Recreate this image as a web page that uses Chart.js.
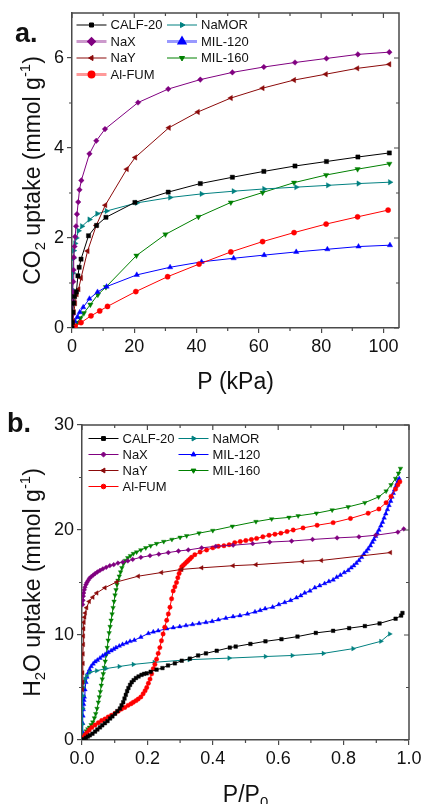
<!DOCTYPE html>
<html>
<head>
<meta charset="utf-8">
<script src="https://cdn.jsdelivr.net/npm/chart.js@4.4.1/dist/chart.umd.min.js"></script>
<style>
  html, body { margin: 0; padding: 0; background: #fff; }
  #wrap { position: relative; width: 422px; height: 804px; overflow: hidden; }
  canvas { position: absolute; left: 0; }
  #co2 { top: 0; }
  #h2o { top: 402px; }
</style>
</head>
<body>
<div id="wrap">
  <canvas id="co2" width="422" height="402"></canvas>
  <canvas id="h2o" width="422" height="402"></canvas>
</div>
<script>
// ---------- materials ----------
const MATERIALS = ['CALF-20', 'NaX', 'NaY', 'Al-FUM', 'NaMOR', 'MIL-120', 'MIL-160'];

// ---------- CO2 isotherms: [P (kPa), uptake (mmol/g)] ----------
const CO2_CALF20 = [[0,0],[0.1,0.12],[0.3,0.35],[0.5,0.55],[0.8,0.70],[1.4,0.80],[1.9,1.16],[2.3,1.35],[2.9,1.53],[5.3,2.05],[7.9,2.28],[10.9,2.46],[20.2,2.79],[30.9,3.02],[41.2,3.21],[51.5,3.35],[61.6,3.48],[71.6,3.60],[81.7,3.70],[91.8,3.80],[101.9,3.89]];
const CO2_NAX = [[0,0],[0.1,0.3],[0.2,0.6],[0.3,0.8],[0.4,1.03],[0.5,1.29],[0.6,1.57],[0.8,1.81],[1.0,2.03],[1.3,2.26],[1.6,2.53],[2.0,2.80],[2.4,3.07],[3.0,3.28],[5.6,3.87],[7.8,4.16],[10.6,4.42],[21.2,5.01],[30.9,5.31],[41.2,5.52],[51.5,5.68],[61.6,5.80],[71.6,5.90],[81.7,5.99],[91.8,6.08],[101.9,6.13]];
const CO2_NAY = [[0,0],[0.3,0.15],[0.6,0.35],[1.0,0.55],[1.5,0.75],[2.1,0.86],[2.9,1.11],[5.0,1.71],[7.8,2.28],[10.7,2.73],[17.6,3.53],[20.3,3.79],[31.1,4.45],[40.4,4.80],[51.0,5.11],[61.2,5.33],[71.3,5.51],[81.5,5.64],[91.6,5.77],[101.9,5.86]];
const CO2_ALFUM = [[0,0],[0.3,0.01],[1.0,0.04],[2.9,0.12],[6.1,0.27],[8.9,0.38],[11.4,0.48],[20.5,0.81],[30.7,1.14],[40.8,1.42],[51.0,1.69],[61.2,1.92],[71.3,2.12],[81.6,2.31],[91.7,2.47],[101.5,2.62]];
const CO2_NAMOR = [[0,0],[0.05,0.3],[0.1,0.56],[0.2,0.85],[0.3,1.22],[0.5,1.55],[0.6,1.72],[1.0,1.88],[1.4,2.00],[2.1,2.16],[3.2,2.26],[5.6,2.41],[8.1,2.54],[11.1,2.60],[20.8,2.78],[31.5,2.90],[41.6,2.98],[51.9,3.04],[61.7,3.09],[72.0,3.13],[82.2,3.17],[92.0,3.21],[102.1,3.24]];
const CO2_MIL120 = [[0,0],[0.4,0.07],[0.9,0.15],[1.7,0.24],[2.5,0.35],[3.6,0.46],[5.6,0.65],[8.2,0.80],[11.1,0.92],[20.8,1.18],[31.5,1.35],[41.6,1.47],[51.9,1.55],[61.7,1.62],[72.0,1.69],[82.0,1.75],[92.0,1.81],[102.1,1.84]];
const CO2_MIL160 = [[0,0],[0.3,0.02],[0.8,0.05],[1.7,0.12],[2.7,0.22],[3.8,0.33],[5.9,0.52],[8.3,0.74],[10.9,0.91],[20.7,1.61],[30.0,2.08],[40.6,2.47],[51.0,2.79],[61.2,3.01],[71.3,3.23],[81.6,3.40],[91.7,3.53],[101.9,3.65]];

// ---------- H2O isotherms: [P/P0, uptake (mmol/g)] ----------
const H2O_CALF20 = [[0,0],[0.005,0.07],[0.012,0.2],[0.018,0.33],[0.024,0.45],[0.032,0.6],[0.040,0.8],[0.047,1.0],[0.055,1.2],[0.062,1.4],[0.070,1.6],[0.078,1.8],[0.086,2.05],[0.093,2.25],[0.101,2.5],[0.108,2.75],[0.116,3.0],[0.121,3.3],[0.126,3.6],[0.130,3.95],[0.134,4.3],[0.138,4.65],[0.142,4.95],[0.147,5.25],[0.152,5.5],[0.158,5.7],[0.165,5.9],[0.173,6.05],[0.182,6.2],[0.190,6.3],[0.198,6.35],[0.210,6.5],[0.228,6.7],[0.246,6.85],[0.263,7.1],[0.284,7.3],[0.305,7.55],[0.330,7.75],[0.355,8.05],[0.379,8.25],[0.412,8.5],[0.452,8.8],[0.470,8.9],[0.515,9.15],[0.561,9.4],[0.610,9.6],[0.659,9.85],[0.715,10.2],[0.768,10.4],[0.817,10.65],[0.865,10.85],[0.910,11.1],[0.959,11.55],[0.976,11.85],[0.980,12.1]];
const H2O_NAX = [[0.002,12.9],[0.003,13.3],[0.004,13.7],[0.005,14.0],[0.007,14.3],[0.009,14.55],[0.012,14.8],[0.015,15.0],[0.019,15.2],[0.023,15.4],[0.028,15.55],[0.034,15.7],[0.040,15.85],[0.047,16.0],[0.055,16.15],[0.064,16.3],[0.074,16.45],[0.085,16.6],[0.097,16.7],[0.110,16.85],[0.125,16.95],[0.140,17.05],[0.155,17.2],[0.180,17.4],[0.208,17.55],[0.235,17.7],[0.264,17.85],[0.295,18.0],[0.325,18.1],[0.366,18.3],[0.409,18.45],[0.462,18.55],[0.522,18.7],[0.574,18.85],[0.641,18.95],[0.705,19.1],[0.780,19.25],[0.847,19.35],[0.898,19.5],[0.966,19.8],[0.984,20.1]];
const H2O_NAY = [[0.001,4.8],[0.002,5.5],[0.002,6.4],[0.003,7.3],[0.003,8.2],[0.004,9.1],[0.004,9.9],[0.005,10.6],[0.006,11.2],[0.008,11.7],[0.010,12.1],[0.014,12.6],[0.022,13.2],[0.033,13.6],[0.045,14.0],[0.070,14.5],[0.106,15.05],[0.172,15.6],[0.243,15.95],[0.305,16.25],[0.366,16.4],[0.462,16.6],[0.532,16.7],[0.674,17.0],[0.732,17.1],[0.943,17.85]];
const H2O_ALFUM = [[0,0],[0.004,0.25],[0.009,0.48],[0.015,0.7],[0.022,0.95],[0.030,1.2],[0.040,1.43],[0.050,1.65],[0.060,1.85],[0.070,2.0],[0.080,2.2],[0.090,2.35],[0.101,2.55],[0.111,2.75],[0.121,2.95],[0.131,3.1],[0.141,3.3],[0.150,3.45],[0.157,3.6],[0.165,3.75],[0.172,3.9],[0.180,4.1],[0.187,4.4],[0.193,4.7],[0.198,5.0],[0.203,5.4],[0.208,5.8],[0.213,6.3],[0.218,6.8],[0.223,7.2],[0.228,7.7],[0.233,8.25],[0.238,8.8],[0.243,9.45],[0.248,10.1],[0.253,10.75],[0.259,11.4],[0.264,12.0],[0.269,12.65],[0.274,13.45],[0.279,14.2],[0.284,14.6],[0.289,15.0],[0.293,15.45],[0.297,15.85],[0.301,16.2],[0.305,16.5],[0.310,16.65],[0.315,16.8],[0.320,16.95],[0.325,17.1],[0.330,17.25],[0.335,17.4],[0.345,17.65],[0.361,17.9],[0.381,18.1],[0.400,18.3],[0.417,18.45],[0.434,18.5],[0.450,18.6],[0.467,18.8],[0.484,18.9],[0.501,19.0],[0.518,19.1],[0.534,19.2],[0.553,19.35],[0.572,19.5],[0.590,19.6],[0.608,19.7],[0.627,19.85],[0.646,20.0],[0.676,20.2],[0.719,20.45],[0.768,20.7],[0.821,21.1],[0.875,21.6],[0.908,22.0],[0.930,22.6],[0.945,23.2],[0.959,23.9],[0.966,24.3],[0.972,24.6]];
const H2O_NAMOR = [[0,0],[0.001,1.5],[0.002,3.0],[0.003,4.2],[0.004,5.0],[0.006,5.5],[0.009,5.8],[0.014,6.1],[0.024,6.45],[0.045,6.6],[0.073,6.8],[0.114,7.0],[0.157,7.2],[0.221,7.4],[0.328,7.65],[0.450,7.8],[0.561,7.95],[0.643,8.05],[0.738,8.25],[0.829,8.7],[0.914,9.4],[0.941,10.1]];
const H2O_MIL120 = [[0,0],[0.001,0.8],[0.002,1.6],[0.003,2.3],[0.004,2.9],[0.005,3.4],[0.006,3.8],[0.007,4.1],[0.009,4.8],[0.012,5.5],[0.015,6.0],[0.019,6.4],[0.023,6.7],[0.028,7.0],[0.034,7.25],[0.040,7.45],[0.047,7.6],[0.055,7.8],[0.063,8.0],[0.071,8.15],[0.080,8.35],[0.089,8.5],[0.097,8.65],[0.104,8.8],[0.114,8.95],[0.124,9.1],[0.136,9.25],[0.147,9.4],[0.160,9.5],[0.180,9.8],[0.203,10.15],[0.218,10.3],[0.233,10.4],[0.259,10.6],[0.279,10.7],[0.299,10.8],[0.318,10.9],[0.338,11.0],[0.358,11.1],[0.379,11.2],[0.398,11.3],[0.417,11.45],[0.440,11.6],[0.462,11.75],[0.483,11.85],[0.506,12.0],[0.529,12.2],[0.545,12.35],[0.560,12.5],[0.583,12.65],[0.602,12.9],[0.620,13.1],[0.638,13.3],[0.656,13.55],[0.669,13.75],[0.681,14.0],[0.697,14.2],[0.712,14.5],[0.727,14.7],[0.742,14.9],[0.755,15.1],[0.768,15.25],[0.779,15.5],[0.790,15.7],[0.802,15.95],[0.814,16.15],[0.823,16.4],[0.831,16.6],[0.839,16.85],[0.847,17.1],[0.855,17.4],[0.862,17.7],[0.869,17.95],[0.875,18.2],[0.882,18.5],[0.888,18.85],[0.893,19.1],[0.898,19.4],[0.903,19.7],[0.908,20.0],[0.914,20.4],[0.919,20.75],[0.924,21.15],[0.929,21.55],[0.934,21.95],[0.939,22.35],[0.944,22.75],[0.948,23.15],[0.952,23.5],[0.956,23.85],[0.960,24.15],[0.963,24.4],[0.967,24.7],[0.970,24.9]];
const H2O_MIL160 = [[0,0],[0.004,0.3],[0.008,0.6],[0.013,0.85],[0.018,1.05],[0.023,1.2],[0.028,1.45],[0.033,1.7],[0.038,2.1],[0.042,2.5],[0.046,3.0],[0.050,3.6],[0.053,4.1],[0.056,4.6],[0.059,5.2],[0.062,5.8],[0.065,6.3],[0.068,6.9],[0.071,7.5],[0.074,8.1],[0.077,8.8],[0.080,9.5],[0.083,10.2],[0.086,10.8],[0.089,11.4],[0.092,12.0],[0.095,12.6],[0.098,13.2],[0.101,13.8],[0.104,14.3],[0.107,14.8],[0.110,15.2],[0.114,15.6],[0.118,16.0],[0.122,16.4],[0.127,16.8],[0.133,17.1],[0.140,17.35],[0.148,17.55],[0.157,17.75],[0.167,17.9],[0.180,18.1],[0.195,18.3],[0.210,18.5],[0.228,18.7],[0.250,18.9],[0.275,19.1],[0.300,19.3],[0.320,19.45],[0.358,19.7],[0.400,19.95],[0.460,20.35],[0.532,20.8],[0.580,21.05],[0.633,21.2],[0.661,21.35],[0.717,21.6],[0.765,21.9],[0.814,22.2],[0.865,22.6],[0.907,23.15],[0.930,23.7],[0.945,24.3],[0.959,24.9],[0.968,25.4],[0.974,25.86]];

// ---------- axis tick labels ----------
const CO2_PRESSURE_TICKS = [0, 20, 40, 60, 80, 100];
const CO2_UPTAKE_TICKS = [0, 2, 4, 6];
const H2O_RELP_TICKS = [0, 0.2, 0.4, 0.6, 0.8, 1.0];
const H2O_UPTAKE_TICKS = [0, 10, 20, 30];

const CO2_SERIES = [CO2_CALF20, CO2_NAX, CO2_NAY, CO2_ALFUM, CO2_NAMOR, CO2_MIL120, CO2_MIL160];
const H2O_SERIES = [H2O_CALF20, H2O_NAX, H2O_NAY, H2O_ALFUM, H2O_NAMOR, H2O_MIL120, H2O_MIL160];

// ---------- look ----------
const FONT = '"Liberation Sans", Arial, Helvetica, sans-serif';
const AXIS_COLOR = '#4a4a4a';
const TEXT_COLOR = '#111111';
const STYLE = {
  'CALF-20': { color: '#000000', shape: 'rect',     rot: 0 },
  'NaX':     { color: '#800080', shape: 'rectRot',  rot: 0 },
  'NaY':     { color: '#8b0a0a', shape: 'triangle', rot: 270 },
  'Al-FUM':  { color: '#ff0000', shape: 'circle',   rot: 0 },
  'NaMOR':   { color: '#008080', shape: 'triangle', rot: 90 },
  'MIL-120': { color: '#0000ff', shape: 'triangle', rot: 0 },
  'MIL-160': { color: '#008000', shape: 'triangle', rot: 180 }
};
const RADIUS = { rect: 3, rectRot: 2.8, triangle: 3.1, circle: 2.6 };

function makeDatasets(series, scale) {
  return MATERIALS.map((name, i) => {
    const s = STYLE[name];
    return {
      label: name,
      data: series[i].map(([x, y]) => ({ x, y })),
      showLine: true,
      tension: 0,
      borderColor: s.color,
      backgroundColor: s.color,
      borderWidth: 1,
      pointStyle: s.shape,
      pointRotation: s.rot,
      pointRadius: RADIUS[s.shape] * scale,
      pointBackgroundColor: s.color,
      pointBorderColor: s.color,
      pointBorderWidth: 0.4
    };
  });
}

// ---------- text with sub/superscripts ----------
function partFont(p, size) {
  const sz = (p.sub || p.sup) ? size * 0.65 : size;
  return (p.bold ? 'bold ' : '') + sz + 'px ' + FONT;
}
function richWidth(ctx, parts, size) {
  let w = 0;
  for (const p of parts) { ctx.font = partFont(p, size); w += ctx.measureText(p.t).width; }
  return w;
}
function drawRich(ctx, parts, size, x0, base) {
  let x = x0;
  ctx.textAlign = 'left';
  ctx.textBaseline = 'alphabetic';
  for (const p of parts) {
    ctx.font = partFont(p, size);
    const dy = p.sub ? 0.22 * size : (p.sup ? -0.42 * size : 0);
    ctx.fillText(p.t, x, base + dy);
    x += ctx.measureText(p.t).width;
  }
}

// ---------- marker for legend ----------
function drawMarker(ctx, shape, rot, r, x, y) {
  if (Chart.helpers && Chart.helpers.drawPoint) {
    Chart.helpers.drawPoint(ctx, { pointStyle: shape, rotation: rot, radius: r, borderWidth: 0.4 }, x, y);
    return;
  }
  ctx.beginPath();
  ctx.arc(x, y, r, 0, Math.PI * 2);
  ctx.fill();
}

// ---------- frame, mirrored ticks, titles, legend ----------
function minorValues(major, max) {
  const out = [];
  for (let i = 0; i < major.length - 1; i++) out.push((major[i] + major[i + 1]) / 2);
  const step = major[1] - major[0];
  const extra = major[major.length - 1] + step / 2;
  if (extra < max - 1e-9) out.push(extra);
  return out;
}

const decorPlugin = {
  id: 'decor',
  afterDatasetsDraw(chart, args, o) {
    const { ctx, chartArea: a } = chart;
    const xs = chart.scales.x, ys = chart.scales.y;
    const xMaj = xs.ticks.map(t => t.value), yMaj = ys.ticks.map(t => t.value);
    const xMin = minorValues(xMaj, xs.max), yMin = minorValues(yMaj, ys.max);
    ctx.save();
    ctx.strokeStyle = AXIS_COLOR;
    ctx.lineWidth = 1.5;
    ctx.beginPath();
    ctx.moveTo(a.left, a.top); ctx.lineTo(a.right, a.top); ctx.lineTo(a.right, a.bottom);
    ctx.stroke();
    ctx.lineWidth = 1.2;
    ctx.beginPath();
    const MAJ = 5, MIN = 3;
    xMaj.forEach(v => { const p = xs.getPixelForValue(v); ctx.moveTo(p, a.top); ctx.lineTo(p, a.top + MAJ); });
    xMin.forEach(v => {
      const p = xs.getPixelForValue(v);
      ctx.moveTo(p, a.top); ctx.lineTo(p, a.top + MIN);
      ctx.moveTo(p, a.bottom); ctx.lineTo(p, a.bottom + MIN);
    });
    yMaj.forEach(v => { const p = ys.getPixelForValue(v); ctx.moveTo(a.right, p); ctx.lineTo(a.right - MAJ, p); });
    yMin.forEach(v => {
      const p = ys.getPixelForValue(v);
      ctx.moveTo(a.right, p); ctx.lineTo(a.right - MIN, p);
      ctx.moveTo(a.left, p); ctx.lineTo(a.left - MIN, p);
    });
    ctx.stroke();
    ctx.restore();
  },
  afterDraw(chart, args, o) {
    const { ctx, chartArea: a } = chart;
    ctx.save();
    ctx.fillStyle = TEXT_COLOR;

    // panel letter
    ctx.font = 'bold 27px ' + FONT;
    ctx.textAlign = 'left';
    ctx.textBaseline = 'alphabetic';
    ctx.fillText(o.letter, o.letterX, o.letterY);

    // x title
    const TS = 23;
    const xw = richWidth(ctx, o.xTitle, TS);
    drawRich(ctx, o.xTitle, TS, (a.left + a.right) / 2 - xw / 2, o.xTitleBase);

    // y title (rotated)
    const yw = richWidth(ctx, o.yTitle, TS);
    ctx.save();
    ctx.translate(o.yTitleBase, (a.top + a.bottom) / 2);
    ctx.rotate(-Math.PI / 2);
    drawRich(ctx, o.yTitle, TS, -yw / 2, 0);
    ctx.restore();

    // legend: two columns
    const L = o.legend;
    chart.data.datasets.forEach((ds, i) => {
      const col = i < 4 ? 0 : 1;
      const row = i < 4 ? i : i - 4;
      const x0 = L.colX[col], y = L.rowY + row * L.rowStep;
      const s = STYLE[ds.label];
      const pale = L.pale.includes(ds.label);
      ctx.save();
      ctx.strokeStyle = s.color;
      ctx.globalAlpha = pale ? 0.4 : 1;
      ctx.lineWidth = pale ? 3 : 1;
      ctx.beginPath();
      ctx.moveTo(x0, y); ctx.lineTo(x0 + L.lineLen, y);
      ctx.stroke();
      ctx.globalAlpha = 1;
      ctx.fillStyle = s.color;
      ctx.strokeStyle = s.color;
      drawMarker(ctx, s.shape, s.rot, RADIUS[s.shape] * L.markerScale, x0 + L.lineLen / 2, y);
      ctx.restore();
      ctx.fillStyle = TEXT_COLOR;
      ctx.font = '13px ' + FONT;
      ctx.textAlign = 'left';
      ctx.textBaseline = 'middle';
      ctx.fillText(ds.label, x0 + L.lineLen + 4, y + 0.5);
    });
    ctx.restore();
  }
};

function axisCommon(tickValues, fmt) {
  return {
    type: 'linear',
    afterBuildTicks: s => { s.ticks = tickValues.map(v => ({ value: v })); },
    ticks: {
      font: { family: FONT, size: 18 },
      color: TEXT_COLOR,
      padding: 3,
      maxRotation: 0,
      autoSkip: false,
      callback: v => fmt(v)
    },
    grid: { display: true, drawOnChartArea: false, drawTicks: true, tickLength: 5, color: AXIS_COLOR, lineWidth: 1.2 },
    border: { display: true, color: AXIS_COLOR, width: 1.5 }
  };
}

function buildChart(canvasId, datasets, cfg) {
  const x = Object.assign(axisCommon(cfg.xTicks, cfg.xFmt), {
    min: cfg.xRange[0], max: cfg.xRange[1],
    afterFit: s => { s.height = cfg.xHeight; s.paddingLeft = 0; s.paddingRight = 0; }
  });
  const y = Object.assign(axisCommon(cfg.yTicks, cfg.yFmt), {
    min: cfg.yRange[0], max: cfg.yRange[1],
    afterFit: s => { s.width = cfg.yWidth; s.paddingTop = 0; s.paddingBottom = 0; }
  });
  return new Chart(document.getElementById(canvasId), {
    type: 'scatter',
    data: { datasets },
    options: {
      responsive: false,
      devicePixelRatio: 1,
      animation: false,
      events: [],
      layout: { padding: cfg.padding },
      scales: { x, y },
      plugins: {
        legend: { display: false },
        tooltip: { enabled: false },
        decor: cfg.decor
      }
    },
    plugins: [decorPlugin]
  });
}

// panel a: CO2 adsorption
buildChart('co2', makeDatasets(CO2_SERIES, 1), {
  xTicks: CO2_PRESSURE_TICKS, xFmt: v => String(v), xRange: [0, 105],
  yTicks: CO2_UPTAKE_TICKS, yFmt: v => String(v), yRange: [0, 7],
  xHeight: 74, yWidth: 72,
  padding: { top: 13, right: 23, bottom: 0, left: 0 },
  decor: {
    letter: 'a.', letterX: 15, letterY: 41.5,
    xTitle: [{ t: 'P (kPa)' }], xTitleBase: 389,
    yTitle: [{ t: 'CO' }, { t: '2', sub: true }, { t: ' uptake (mmol g' }, { t: '-1', sup: true }, { t: ')' }],
    yTitleBase: 40,
    legend: { colX: [76.5, 167], lineLen: 30, rowY: 25, rowStep: 16.5, markerScale: 0.95, pale: ['NaX', 'MIL-120', 'Al-FUM'] }
  }
});

// panel b: H2O adsorption
buildChart('h2o', makeDatasets(H2O_SERIES, 0.85), {
  xTicks: H2O_RELP_TICKS, xFmt: v => v.toFixed(1), xRange: [0, 1],
  yTicks: H2O_UPTAKE_TICKS, yFmt: v => String(v), yRange: [0, 30],
  xHeight: 64, yWidth: 82,
  padding: { top: 23, right: 13, bottom: 0, left: 0 },
  decor: {
    letter: 'b.', letterX: 7, letterY: 30,
    xTitle: [{ t: 'P/P' }, { t: '0', sub: true }], xTitleBase: 399.5,
    yTitle: [{ t: 'H' }, { t: '2', sub: true }, { t: 'O uptake (mmol g' }, { t: '-1', sup: true }, { t: ')' }],
    yTitleBase: 40,
    legend: { colX: [88.5, 178.5], lineLen: 30, rowY: 36.5, rowStep: 16, markerScale: 0.9, pale: [] }
  }
});
</script>
</body>
</html>
